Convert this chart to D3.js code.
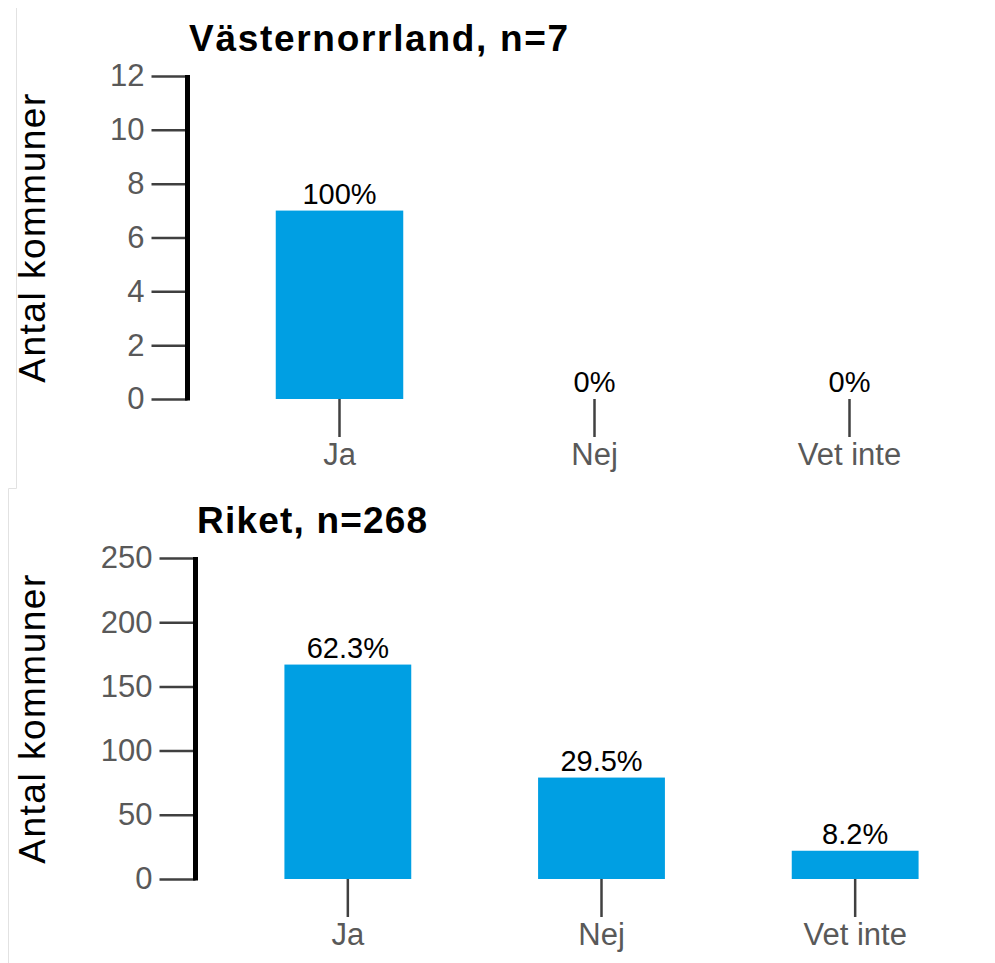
<!DOCTYPE html>
<html>
<head>
<meta charset="utf-8">
<script src="https://cdn.jsdelivr.net/npm/d3@7"></script>
<style>
  body { margin: 0; background: #fff; }
  svg { display: block; font-family: "Liberation Sans", Arial, sans-serif; }
</style>
</head>
<body>
<svg width="995" height="963"></svg>
<script>
// DATA
var categories = ["Ja", "Nej", "Vet inte"];

var vnTitle = "Västernorrland, n=7";
var vnCounts = [7, 0, 0];
var vnPercent = ["100%", "0%", "0%"];
var vnTicks = [0, 2, 4, 6, 8, 10, 12];

var riketTitle = "Riket, n=268";
var riketCounts = [167, 79, 22];
var riketPercent = ["62.3%", "29.5%", "8.2%"];
var riketTicks = [0, 50, 100, 150, 200, 250];

var yLabel = "Antal kommuner";

var svg = d3.select("svg");

// faint frame lines from the original screenshots
svg.append("path")
    .attr("d", "M16.5,8V488.5H8.5V963")
    .attr("fill", "none")
    .attr("stroke", "#e2e2e2")
    .attr("stroke-width", 1);

function drawPanel(opt) {
    var g = svg.append("g");

    var yScale = d3.scaleLinear()
        .domain([0, d3.max(opt.ticks)])
        .range([opt.bottom, opt.top]);

    var xScale = d3.scaleBand()
        .domain(categories)
        .range([opt.x0, opt.x1])
        .paddingInner(0.5)
        .paddingOuter(0.25);

    // title
    g.append("text")
        .attr("x", opt.titleX)
        .attr("y", opt.titleY)
        .attr("font-size", "37px")
        .attr("font-weight", "bold")
        .attr("letter-spacing", opt.titleSpacing)
        .attr("fill", "#000")
        .text(opt.title);

    // y axis label
    g.append("text")
        .attr("transform", "translate(45," + ((opt.top + opt.bottom) / 2) + ") rotate(-90)")
        .attr("text-anchor", "middle")
        .attr("font-size", "37px")
        .attr("letter-spacing", "1.5px")
        .attr("fill", "#000")
        .text(yLabel);

    // y axis
    var yAxis = g.append("g")
        .attr("transform", "translate(" + opt.axisX + ",0)")
        .call(d3.axisLeft(yScale).tickValues(opt.ticks).tickSize(36).tickPadding(7));
    yAxis.select(".domain").remove();
    yAxis.selectAll(".tick line")
        .attr("stroke", "#404040")
        .attr("stroke-width", 2.5);
    yAxis.selectAll(".tick text")
        .attr("font-size", "31px")
        .attr("font-family", "Liberation Sans, Arial, sans-serif")
        .attr("fill", "#595959");
    yAxis.append("line")
        .attr("x1", 0)
        .attr("x2", 0)
        .attr("y1", yScale(d3.max(opt.ticks)) - 1)
        .attr("y2", yScale(0) + 1.5)
        .attr("stroke", "#000")
        .attr("stroke-width", 5);

    // x axis (ticks only)
    var xAxis = g.append("g")
        .attr("transform", "translate(0," + opt.bottom + ")")
        .call(d3.axisBottom(xScale).tickSize(38).tickPadding(6));
    xAxis.select(".domain").remove();
    xAxis.selectAll(".tick line")
        .attr("stroke", "#404040")
        .attr("stroke-width", 2.5);
    xAxis.selectAll(".tick text")
        .attr("font-size", "31px")
        .attr("font-family", "Liberation Sans, Arial, sans-serif")
        .attr("fill", "#595959");

    // bars
    g.selectAll(".bar")
        .data(opt.counts)
        .enter().append("rect")
        .attr("class", "bar")
        .attr("x", function (d, i) { return xScale(categories[i]); })
        .attr("y", function (d) { return yScale(d); })
        .attr("width", xScale.bandwidth())
        .attr("height", function (d) { return yScale(0) - yScale(d); })
        .attr("fill", "#009fe3");

    // percent labels
    g.selectAll(".pct")
        .data(opt.counts)
        .enter().append("text")
        .attr("class", "pct")
        .attr("x", function (d, i) { return xScale(categories[i]) + xScale.bandwidth() / 2; })
        .attr("y", function (d) { return yScale(d) - 7; })
        .attr("text-anchor", "middle")
        .attr("font-size", "29px")
        .attr("fill", "#000")
        .text(function (d, i) { return opt.percent[i]; });
}

drawPanel({
    title: vnTitle, counts: vnCounts, percent: vnPercent, ticks: vnTicks,
    titleX: 189, titleY: 51, titleSpacing: "1.7px",
    axisX: 187.5, top: 76, bottom: 399,
    x0: 212, x1: 977
});

drawPanel({
    title: riketTitle, counts: riketCounts, percent: riketPercent, ticks: riketTicks,
    titleX: 197, titleY: 533, titleSpacing: "1.2px",
    axisX: 195.5, top: 558, bottom: 879,
    x0: 221, x1: 982
});
</script>
</body>
</html>
